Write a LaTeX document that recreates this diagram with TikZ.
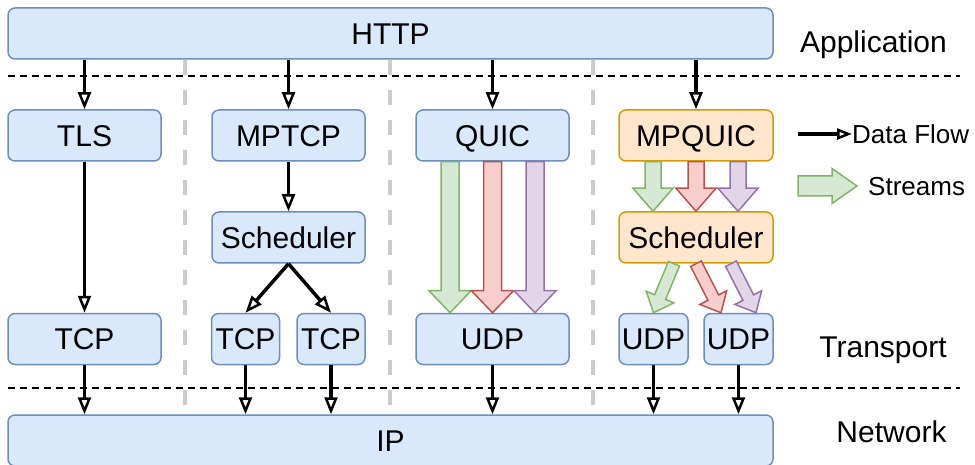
\documentclass[tikz,border=0pt]{standalone}
\usepackage{fontspec}
\setmainfont{Liberation Sans}
\usetikzlibrary{arrows.meta,calc}
\definecolor{bfill}{HTML}{DAE8FC}
\definecolor{bdraw}{HTML}{6C8EBF}
\definecolor{ofill}{HTML}{FFE6CC}
\definecolor{odraw}{HTML}{D79B00}
\definecolor{gfill}{HTML}{D5E8D4}
\definecolor{gdraw}{HTML}{82B366}
\definecolor{rfill}{HTML}{F8CECC}
\definecolor{rdraw}{HTML}{B85450}
\definecolor{pfill}{HTML}{E1D5E7}
\definecolor{pdraw}{HTML}{9673A6}
\definecolor{sepgray}{HTML}{CCCCCC}
\newcommand\blockarr[6]{%
  \coordinate (ba-h) at ($(#2)!#5!(#1)$);
  \draw[#6, line width=1.5pt, line join=miter]
    ($(#1)!#3!90:(#2)$) -- ($(ba-h)!#3!90:(#2)$) -- ($(ba-h)!#4!90:(#2)$) -- (#2)
    -- ($(ba-h)!#4!-90:(#2)$) -- ($(ba-h)!#3!-90:(#2)$) -- ($(#1)!#3!-90:(#2)$) -- cycle;}
\tikzset{
  box/.style={draw=bdraw, fill=bfill, line width=1.5pt, rounded corners=7pt, inner sep=0pt,
    font=\fontsize{30}{36}\selectfont, text height=21.5pt, text depth=0pt,
    minimum height=51pt},
  obox/.style={box, draw=odraw, fill=ofill},
  lbl/.style={inner sep=0pt, font=\fontsize{30}{36}\selectfont, text height=21.5pt, text depth=0pt},
  leg/.style={inner sep=0pt, font=\fontsize{26}{30}\selectfont, text height=18.6pt, text depth=0pt, anchor=west},
  flow/.style={line width=3.5pt, -{Triangle[open,fill=white,length=17pt,width=13pt,line width=2.5pt]}},
  layersep/.style={line width=1.7pt, dash pattern=on 7pt off 5pt},
  colsep/.style={draw=sepgray, line width=4.5pt, dash pattern=on 15pt off 15pt},
}
\begin{document}
\begin{tikzpicture}[x=1pt,y=-1pt]
\useasboundingbox (0,0) rectangle (975,465);

% separators
\draw[colsep] (185,60) -- (185,412);
\draw[colsep] (390,60) -- (390,412);
\draw[colsep] (593,60) -- (593,412);
\draw[layersep] (8,76) -- (960,76);
\draw[layersep] (8,388) -- (960,388);

% boxes
\node[box, minimum width=765pt] (http) at (390.5,33.5) {HTTP};
\node[box, minimum width=765pt] (ip) at (390.5,440.5) {IP};

\node[box, minimum width=153pt] (tls) at (84.5,135.5) {TLS};
\node[box, minimum width=153pt] (tcp1) at (84.5,339) {TCP};

\node[box, minimum width=153pt] (mptcp) at (288.5,135.5) {MPTCP};
\node[box, minimum width=153pt] (sched1) at (288.5,237.5) {Scheduler};
\node[box, minimum width=68pt] (tcp2) at (245.5,339) {TCP};
\node[box, minimum width=68pt] (tcp3) at (331,339) {TCP};

\node[box, minimum width=153pt] (quic) at (492.5,135.5) {QUIC};
\node[box, minimum width=153pt] (udp1) at (492.5,339) {UDP};

\node[obox, minimum width=154pt] (mpquic) at (696,135.5) {MPQUIC};
\node[obox, minimum width=154pt] (sched2) at (696,237.5) {Scheduler};
\node[box, minimum width=69pt] (udp2) at (653.5,339) {UDP};
\node[box, minimum width=69pt] (udp3) at (738.5,339) {UDP};

% layer labels
\node[lbl] (lapp) at (873.5,42) {Application};
\node[lbl] (ltr) at (883,347) {Transport};
\node[lbl] (lnet) at (891.5,432) {Network};

% data flow arrows
\draw[flow] (http.south -| tls.north) -- (tls.north);
\draw[flow] (http.south -| mptcp.north) -- (mptcp.north);
\draw[flow] (http.south -| quic.north) -- (quic.north);
\draw[flow] (http.south -| mpquic.north) -- (mpquic.north);
\draw[flow] (tls.south) -- (tcp1.north);
\draw[flow] (mptcp.south) -- (sched1.north);
\draw[flow] (sched1.south) -- (tcp2.north);
\draw[flow] (sched1.south) -- (tcp3.north);
\foreach \n in {tcp1,tcp2,tcp3,udp1,udp2,udp3}
  \draw[flow] (\n.south) -- (ip.north -| \n.south);

% QUIC streams
\coordinate (qg1) at ([xshift=-42.5pt]quic.south);
\coordinate (qg2) at ([xshift=-42.5pt]udp1.north);
\coordinate (qr1) at (quic.south);
\coordinate (qr2) at (udp1.north);
\coordinate (qp1) at ([xshift=42.5pt]quic.south);
\coordinate (qp2) at ([xshift=42.5pt]udp1.north);
\blockarr{qg1}{qg2}{9pt}{21pt}{22pt}{draw=gdraw, fill=gfill}
\blockarr{qr1}{qr2}{9pt}{21pt}{22pt}{draw=rdraw, fill=rfill}
\blockarr{qp1}{qp2}{9pt}{21pt}{22pt}{draw=pdraw, fill=pfill}

% MPQUIC streams
\coordinate (mg1) at ([xshift=-43pt]mpquic.south);
\coordinate (mg2) at ([xshift=-43pt]sched2.north);
\coordinate (mr1) at (mpquic.south);
\coordinate (mr2) at (sched2.north);
\coordinate (mp1) at ([xshift=42pt]mpquic.south);
\coordinate (mp2) at ([xshift=42pt]sched2.north);
\blockarr{mg1}{mg2}{8pt}{20pt}{23pt}{draw=gdraw, fill=gfill}
\blockarr{mr1}{mr2}{8pt}{20pt}{23pt}{draw=rdraw, fill=rfill}
\blockarr{mp1}{mp2}{8pt}{20pt}{23pt}{draw=pdraw, fill=pfill}

% scheduler to UDP streams
\coordinate (sg1) at ([xshift=-22pt]sched2.south);
\coordinate (sg2) at (udp2.north);
\coordinate (sr1) at (sched2.south);
\coordinate (sr2) at ([xshift=-17.5pt]udp3.north);
\coordinate (sp1) at ([xshift=35pt]sched2.south);
\coordinate (sp2) at ([xshift=17.5pt]udp3.north);
\blockarr{sg1}{sg2}{6pt}{15pt}{17pt}{draw=gdraw, fill=gfill}
\blockarr{sr1}{sr2}{6pt}{15pt}{17pt}{draw=rdraw, fill=rfill}
\blockarr{sp1}{sp2}{6pt}{15pt}{17pt}{draw=pdraw, fill=pfill}

% legend
\node[leg] (ldf) at (852,134) {Data Flow};
\coordinate (ldfs) at (798,134);
\draw[line width=3.5pt, -{Triangle[open,fill=white,length=15pt,width=11pt,line width=2.5pt]}] (ldfs) -- (ldf.west);
\node[leg] (lst) at (868,186) {Streams};
\coordinate (lss) at (798,186);
\coordinate (lse) at (857,186);
\blockarr{lss}{lse}{10pt}{17.5pt}{25pt}{draw=gdraw, fill=gfill}
\end{tikzpicture}
\end{document}
